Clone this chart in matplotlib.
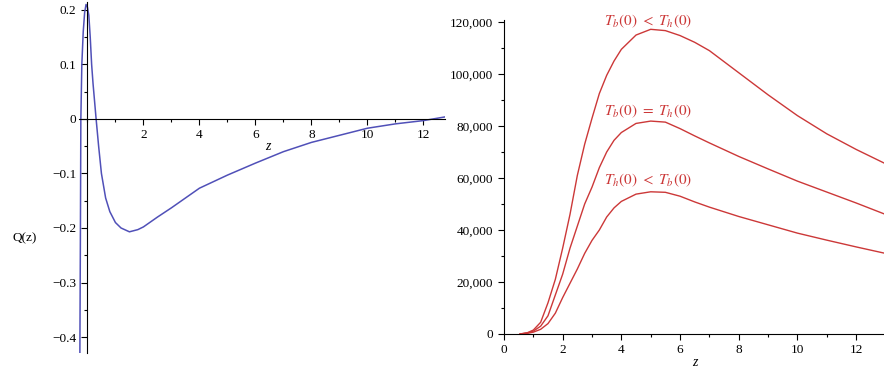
import numpy as np
import matplotlib
matplotlib.use("Agg")
import matplotlib.pyplot as plt
from matplotlib.ticker import MultipleLocator, FuncFormatter

# Q(z) curve (left panel)
z_q = [-0.27, -0.25, -0.235, -0.2, -0.15, -0.1, -0.05, 0.0, 0.05, 0.1, 0.15, 0.2,
       0.31, 0.4, 0.5, 0.65, 0.8, 1.0, 1.2, 1.5, 1.8, 2.0, 2.5, 3.0, 3.5, 4.0,
       5.0, 6.0, 7.0, 8.0, 9.0, 10.0, 11.0, 12.0, 12.8]
q_vals = [-0.43, -0.2, 0.0, 0.1, 0.16, 0.195, 0.21, 0.205, 0.19, 0.15, 0.1, 0.065,
          0.0, -0.05, -0.1, -0.145, -0.17, -0.19, -0.2, -0.207, -0.203, -0.198,
          -0.18, -0.163, -0.145, -0.127, -0.103, -0.081, -0.06, -0.043, -0.03,
          -0.017, -0.009, -0.003, 0.004]

# three temperature cases (right panel)
z_r = [0.55, 0.8, 1.0, 1.25, 1.5, 1.75, 2.0, 2.25, 2.5, 2.75, 3.0, 3.25, 3.5, 3.75,
       4.0, 4.5, 5.0, 5.5, 6.0, 6.5, 7.0, 8.0, 9.0, 10.0, 11.0, 12.0, 13.0]
tb_lt_th = [0, 500, 1500, 4500, 12000, 21000, 33000, 46000, 61000, 73000, 83000,
            92500, 99500, 105000, 109500, 115000, 117200, 116700, 114800, 112200,
            109000, 100500, 92000, 84000, 77000, 71000, 65500]
tb_eq_th = [0, 400, 1100, 3000, 7000, 15000, 23000, 33000, 41500, 50000, 56500,
            64000, 70000, 74500, 77500, 81000, 81900, 81500, 79000, 76200, 73500,
            68300, 63500, 58800, 54600, 50400, 46000]
th_lt_tb = [0, 250, 700, 1800, 4000, 8000, 14000, 19500, 25000, 31000, 36000,
            40000, 45000, 48500, 51000, 53800, 54700, 54500, 53000, 50800, 48800,
            45200, 42000, 38800, 36100, 33500, 31000]
case_labels = [r'$T_b(0)\ <\ T_h(0)$', r'$T_b(0)\ =\ T_h(0)$', r'$T_h(0)\ <\ T_b(0)$']
label_y = [120100, 85500, 59200]

plt.rcParams['font.family'] = ['Liberation Serif', 'DejaVu Serif']
plt.rcParams['font.size'] = 9.5
plt.rcParams['mathtext.fontset'] = 'stix'

blue = '#5050b8'
red = '#cc3838'

fig = plt.figure(figsize=(8.84, 3.69), dpi=100)

# ---- left panel ----
ax1 = fig.add_axes([0.0894, 0.0423, 0.414, 0.953])
ax1.plot(z_q, q_vals, color=blue, lw=1.1)
ax1.set_xlim(-0.3, 12.77)
ax1.set_ylim(-0.43, 0.215)
ax1.spines['left'].set_position(('data', 0))
ax1.spines['bottom'].set_position(('data', 0))
ax1.spines['top'].set_visible(False)
ax1.spines['right'].set_visible(False)
ax1.set_xticks([2, 4, 6, 8, 10, 12])
ax1.xaxis.set_minor_locator(MultipleLocator(1))
ax1.yaxis.set_major_locator(MultipleLocator(0.1))
ax1.yaxis.set_minor_locator(MultipleLocator(0.05))


def qfmt(v, pos):
    if abs(v) < 1e-9:
        return '0'
    return f'{v:.1f}'.replace('-', '\u2212')


ax1.yaxis.set_major_formatter(FuncFormatter(qfmt))
ax1.tick_params(which='major', direction='out', length=4, width=0.8, pad=4)
ax1.tick_params(which='minor', direction='out', length=2.5, width=0.8)
ax1.tick_params(axis='x', which='major', pad=3)
ax1.text(6.45, -0.051, 'z', style='italic', fontsize=10, ha='center', va='center')
fig.text(25 / 884, 1 - 238 / 369, 'Q(z)', ha='center', va='center', fontsize=9.5)

# ---- right panel ----
ax2 = fig.add_axes([0.5701, 0.0949, 0.4299, 0.851])
for series, lab, ly in zip([tb_lt_th, tb_eq_th, th_lt_tb], case_labels, label_y):
    ax2.plot(z_r, series, color=red, lw=1.0)
    ax2.text(4.9, ly, lab, color=red, fontsize=11, ha='center', va='center',
             clip_on=False)
ax2.set_xlim(0, 12.95)
ax2.set_ylim(0, 120800)
ax2.spines['top'].set_visible(False)
ax2.spines['right'].set_visible(False)
ax2.xaxis.set_major_locator(MultipleLocator(2))
ax2.xaxis.set_minor_locator(MultipleLocator(1))
ax2.yaxis.set_major_locator(MultipleLocator(20000))
ax2.yaxis.set_minor_locator(MultipleLocator(10000))
ax2.yaxis.set_major_formatter(FuncFormatter(lambda v, p: f'{v:,.0f}'))
ax2.tick_params(which='major', direction='out', length=4, width=0.8, pad=4)
ax2.tick_params(which='minor', direction='out', length=2.5, width=0.8)
ax2.tick_params(axis='x', which='major', pad=3)
fig.text(695 / 884, 1 - 363 / 369, 'z', style='italic', fontsize=10,
         ha='center', va='center')

fig.savefig('out.png', dpi=100)
